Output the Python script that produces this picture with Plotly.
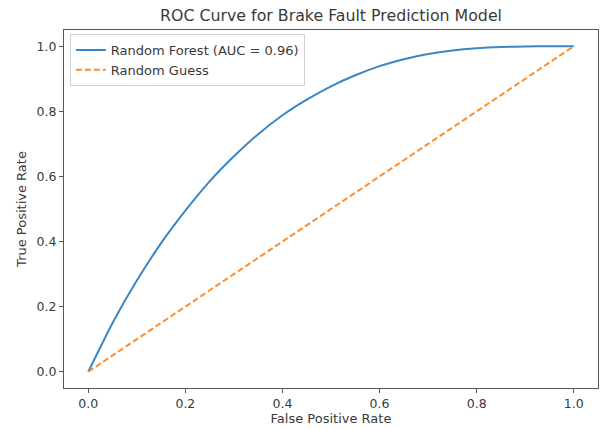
import plotly.graph_objects as go

# Data
fpr = [0.0, 0.05, 0.10, 0.15, 0.20, 0.25, 0.30, 0.35, 0.40, 0.45, 0.50,
       0.55, 0.60, 0.65, 0.70, 0.75, 0.80, 0.85, 0.90, 0.95, 1.0]
tpr = [0.0, 0.15, 0.28, 0.395, 0.495, 0.585, 0.662, 0.73, 0.788, 0.836, 0.877,
       0.911, 0.939, 0.960, 0.976, 0.987, 0.994, 0.998, 0.9995, 1.0, 1.0]
guess_x = [0.0, 1.0]
guess_y = [0.0, 1.0]
tick_vals = [0.0, 0.2, 0.4, 0.6, 0.8, 1.0]
tick_text = ["0.0", "0.2", "0.4", "0.6", "0.8", "1.0"]

FONT = "DejaVu Sans"
TXT = "#3a3a3a"

fig = go.Figure()
fig.add_trace(go.Scatter(
    x=fpr, y=tpr, mode="lines", name="Random Forest (AUC = 0.96)",
    line=dict(color="#3a86c6", width=2, shape="spline", smoothing=0.6),
))
fig.add_trace(go.Scatter(
    x=guess_x, y=guess_y, mode="lines", name="Random Guess",
    line=dict(color="#ff8c2a", width=2, dash="6px,3px"),
))

axis_common = dict(
    showgrid=False, zeroline=False,
    showline=True, linecolor="#555555", linewidth=1.2, mirror=True,
    ticks="outside", ticklen=4, tickwidth=1, tickcolor="#555555",
    tickvals=tick_vals, ticktext=tick_text,
    tickfont=dict(family=FONT, size=12.5, color=TXT),
)

fig.update_layout(
    width=602, height=429,
    margin=dict(l=64, r=4, t=30, b=41, autoexpand=False),
    paper_bgcolor="white", plot_bgcolor="white",
    font=dict(family=FONT, color=TXT),
    title=dict(text="ROC Curve for Brake Fault Prediction Model",
               x=0.5, xref="paper", xanchor="center",
               y=1 - 15 / 429, yanchor="middle",
               font=dict(family=FONT, size=15.8, color=TXT)),
    xaxis=dict(range=[-0.05, 1.05],
               title=dict(text="False Positive Rate", standoff=3,
                          font=dict(family=FONT, size=13, color=TXT)),
               **axis_common),
    yaxis=dict(range=[-0.05, 1.05],
               title=dict(text="True Positive Rate", standoff=6,
                          font=dict(family=FONT, size=13, color=TXT)),
               **axis_common),
    legend=dict(x=0.011, y=0.989, xanchor="left", yanchor="top",
                bgcolor="rgba(255,255,255,0.8)", bordercolor="#d0d0d0",
                borderwidth=1, font=dict(family=FONT, size=13, color=TXT),
                tracegroupgap=0),
    showlegend=True,
)

fig.write_html("out.html",
               config={"displayModeBar": False},
               post_script="document.body.style.margin='0';document.body.style.padding='0';")
